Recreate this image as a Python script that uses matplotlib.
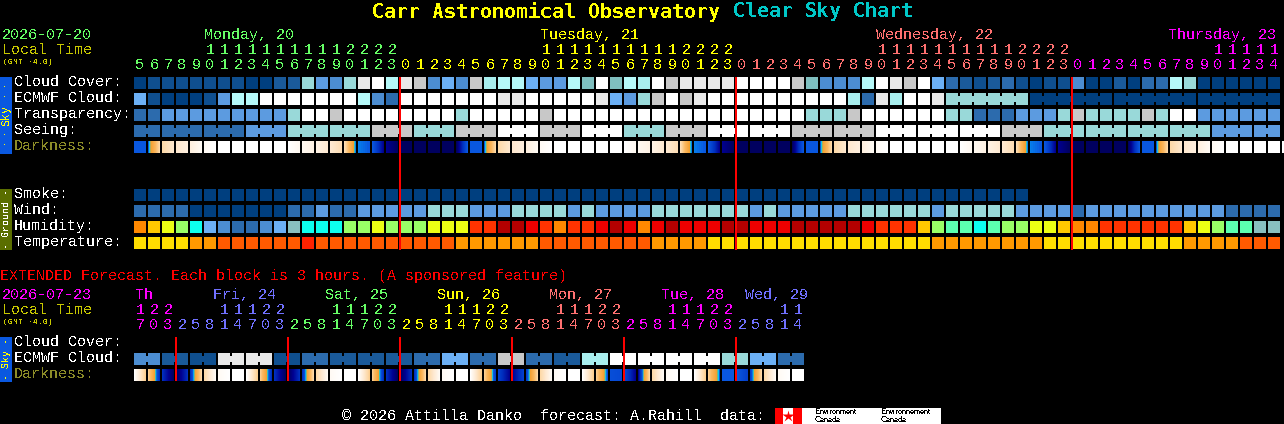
import matplotlib
matplotlib.use('Agg')
import matplotlib.pyplot as plt
import numpy as np
from matplotlib.colors import LinearSegmentedColormap
from matplotlib.patches import Rectangle

plt.rcParams['text.antialiased'] = False
plt.rcParams['text.hinting'] = 'native'
plt.rcParams['text.hinting_factor'] = 1
plt.rcParams['font.family'] = 'Liberation Mono'

# colour classes
sky_colors = ['#003f7f', '#0f4f8f', '#1a5a9a', '#2c6bad', '#4c8dd1', '#5c9be0', '#6cb0f5',
              '#7fbfbf', '#99d9d9', '#a8eeee', '#b5f9f9', '#c8c8c8', '#e9e9e9', '#ffffff']
humidity_colors = ['#b30000', '#ee0000', '#ff3300', '#ff8800', '#ffc800', '#ecff14', '#99ff66',
                   '#5cffb0', '#0dffee', '#6cb0f5', '#4c8dd1', '#2c6bad', '#88bfbf']
temp_colors = ['#ffdd00', '#ff9900', '#ff5a00', '#ff2200']
dark_stops = [(0.0, '#00004c'), (0.03, '#000060'), (0.1, '#000090'), (0.2, '#0030c0'),
              (0.33, '#0a58e0'), (0.36, '#00c8ff'), (0.39, '#50c0a0'), (0.42, '#f5a030'),
              (0.6, '#fbb860'), (0.75, '#fdd9a8'), (0.85, '#fee8cf'), (0.97, '#fffaf4'), (1.0, '#ffffff')]

# main chart, one value per hour
hours = [5, 6, 7, 8, 9, 10, 11, 12, 13, 14, 15, 16, 17, 18, 19, 20, 21, 22, 23,
         0, 1, 2, 3, 4, 5, 6, 7, 8, 9, 10, 11, 12, 13, 14, 15, 16, 17, 18, 19, 20, 21, 22, 23,
         0, 1, 2, 3, 4, 5, 6, 7, 8, 9, 10, 11, 12, 13, 14, 15, 16, 17, 18, 19, 20, 21, 22, 23,
         0, 1, 2, 3, 4, 5, 6, 7, 8, 9, 10, 11, 12, 13, 14]
cloud = [0, 1, 1, 1, 1, 1, 1, 1, 0, 0, 2, 2, 8, 5, 4, 8, 12, 13, 10, 12, 11,
         4, 6, 4, 11, 9, 10, 10, 6, 5, 5, 10, 7, 13, 7, 10, 9, 13, 11, 12, 12, 12, 12,
         13, 13, 13, 13, 11, 7, 4, 4, 4,
         10, 13, 12, 11, 13, 6, 3, 2, 1, 2, 3, 1, 0, 1, 1, 4, 0, 0, 2, 0, 3, 3, 10, 8, 0, 0, 0, 0, 0, 0]
ecmwf = [6, 1, 0, 0, 0, 1, 5, 10, 10, 13, 13, 13, 13, 13, 13, 13, 10, 4, 3, 13, 13,
         13, 13, 13, 13, 13, 12, 12, 13, 13, 13, 13, 13, 12, 6, 5, 8, 11, 13, 11, 12, 13, 13,
         13, 13, 13, 13, 13, 13, 13, 13, 9,
         3, 12, 9, 13, 13, 12, 8, 0, 0, 0]
ecmwf_spans = [1] * 58 + [6, 6, 6, 6]
transparency = [3, 3, 5, 5, 5, 5, 5, 5, 5, 5, 5, 8, 13, 13, 11, 13, 13, 13, 13, 13, 13,
                13, 13, 8, 13, 13, 13, 13, 13, 11, 13, 13, 13, 13, 13, 13, 13, 13, 13, 13, 13, 13, 13,
                13, 13, 13, 13, 13, 8, 8, 8, 11,
                13, 13, 13, 13, 13, 13, 8, 8, 3, 3, 3, 5, 5, 5, 8, 11, 8, 8, 8, 8, 11, 8, 13, 13, 5, 5, 5, 5, 5, 5]
seeing = [3, 3, 3, 5, 8, 8, 11, 8, 11, 13, 11, 13, 8, 11, 13, 13, 11, 11, 13, 13, 13, 11, 8, 8, 8, 8, 5, 5]
seeing_spans = [2] + [3] * 26 + [2]
darkness = [.33, .33, .75, .85, .9, .97, 1, 1, 1, 1, 1, 1, .96, .92, .86, .78, .34, .33, .1, .03, .03, .03, .03,
            .03, .33, .33, .75, .85, .9, .97, 1, 1, 1, 1, 1, 1, .96, .92, .86, .78, .34, .33, .1, .03, .03, .03, .03,
            .03, .33, .33, .75, .85, .9, .97, 1, 1, 1, 1, 1, 1, .96, .92, .86, .78, .34, .33, .1, .03, .03, .03, .03,
            .03, .33, .33, .75, .85, .9, .97, 1, 1, 1, 1, 1, 1]
smoke = [0] * 64
wind = [3, 3, 3, 3, 0, 0, 0, 0, 0, 0, 0, 3, 3, 5, 3, 3, 5, 5, 5, 5, 5,
        8, 8, 8, 5, 5, 5, 8, 8, 8, 8, 5, 8, 5, 5, 5, 5, 8, 8, 8, 8, 8, 8,
        8, 5, 8, 5, 5, 5, 5, 5, 8,
        8, 8, 8, 8, 8, 5, 8, 8, 8, 8, 8, 5, 5, 5, 5, 3, 5, 5, 5, 5, 5, 5, 5, 5, 5, 5, 3, 3, 3, 3]
humidity = [3, 4, 5, 6, 8, 9, 10, 11, 11, 10, 9, 12, 8, 8, 8, 6, 6, 5, 6, 6, 6,
            5, 5, 5, 2, 2, 0, 0, 1, 2, 3, 2, 2, 1, 0, 1, 3, 1, 0, 1, 1, 1, 0,
            0, 1, 1, 1, 0, 0, 0, 0, 0,
            1, 2, 2, 2, 4, 6, 7, 7, 8, 7, 6, 6, 5, 5, 4, 3, 3, 2, 2, 2, 2, 2, 2, 4, 5, 6, 7, 7, 12, 12]
temperature = [0, 0, 0, 0, 1, 1, 2, 2, 2, 2, 2, 2, 3, 2, 2, 2, 2, 2, 2, 2, 2,
               2, 2, 1, 1, 1, 1, 1, 1, 2, 2, 2, 2, 2, 2, 2, 2, 1, 1, 1, 1, 0, 0,
               0, 0, 0, 0, 0, 0, 0, 0, 0,
               0, 0, 0, 0, 0, 1, 1, 1, 1, 1, 1, 1, 1, 0, 0, 0, 0, 0, 0, 0, 0, 0, 0, 1, 1, 1, 1, 2, 2, 2]
midnights = [19, 43, 67]
day_names = ['Monday, 20', 'Tuesday, 21', 'Wednesday, 22', 'Thursday, 23']
day_colors = ['#66ff66', '#ffff00', '#ff7070', '#ff00ff']
day_lengths = [19, 24, 24, 15]

# extended chart, one value per 3 hours
ext_hours = [17, 20, 23,
             2, 5, 8, 11, 14, 17, 20, 23,
             2, 5, 8, 11, 14, 17, 20, 23,
             2, 5, 8, 11, 14, 17, 20, 23,
             2, 5, 8, 11, 14, 17, 20, 23,
             2, 5, 8, 11, 14, 17, 20, 23,
             2, 5, 8, 11, 14]
ext_ecmwf = [4, 2, 1, 12, 12, 1, 3, 2, 2, 2, 3, 6, 3, 11, 3, 2, 9, 13, 13, 13, 13, 8, 6, 3]
ext_spans = [2] * 24
ext_darkness = [1, .7, .2, .03, .2, .75, .97, 1,
                1, .7, .2, .03, .2, .75, .97, 1,
                1, .7, .2, .03, .2, .75, .97, 1,
                1, .7, .25, .1, .25, .75, .97, 1,
                1, .7, .3, .28, .1, .75, .97, 1,
                1, .7, .33, .33, .25, .75, .97, 1, 1]
ext_midnights = [3, 11, 19, 27, 35, 43]
ext_day_names = ['Th', 'Fri, 24', 'Sat, 25', 'Sun, 26', 'Mon, 27', 'Tue, 28', 'Wed, 29']
ext_day_colors = ['#ff00ff', '#7070ff', '#66ff66', '#ffff00', '#ff7070', '#ff00ff', '#7070ff']
ext_day_lengths = [3, 8, 8, 8, 8, 8, 5]

X0 = 134
STEP = 14
CELL = 12
FS = 10.8

fig = plt.figure(figsize=(12.84, 4.24), dpi=100, facecolor='black')
ax = fig.add_axes([0, 0, 1, 1])
ax.set_facecolor('black')
ax.axis('off')

dark_cmap = LinearSegmentedColormap.from_list('dark', dark_stops, N=512)


def box(x, y, w, h, color):
    ax.add_patch(Rectangle((x, y), w, h, facecolor=color, edgecolor='none', antialiased=False))


def draw_row(y, values, palette, spans=None):
    if spans is None:
        spans = [1] * len(values)
    col = 0
    for v, span in zip(values, spans):
        for j in range(span):
            box(X0 + STEP * (col + j), y, CELL, CELL, palette[v])
            # blocks longer than one hour are joined by a short bridge
            if j < span - 1:
                box(X0 + STEP * (col + j) + CELL, y + 3, STEP - CELL, CELL - 6, palette[v])
        col += span


def draw_darkness(y, edges):
    for i in range(len(edges) - 1):
        grad = np.linspace(edges[i], edges[i + 1], CELL).reshape(1, CELL)
        x = X0 + STEP * i
        ax.imshow(grad, cmap=dark_cmap, vmin=0, vmax=1, aspect='auto', interpolation='nearest',
                  extent=(x, x + CELL, y + CELL, y))


def label(x, y, s, color='white', size=FS, **kw):
    kw.setdefault('ha', 'left')
    ax.text(x, y, s, color=color, fontsize=size, va='center', **kw)


def side_text(y, s, color, size=8.4):
    ax.text(6, y, s, color=color, fontsize=size, rotation=90, ha='center', va='center')


def draw_hours(hrs, lengths, colors, y_tens, y_units):
    col = 0
    for n, c in zip(lengths, colors):
        for h in hrs[col:col + n]:
            cx = X0 + STEP * col + CELL / 2
            if h >= 10:
                label(cx, y_tens, str(h // 10), c, ha='center')
            label(cx, y_units, str(h % 10), c, ha='center')
            col += 1


# title
ax.text(372, 11.5, 'Carr Astronomical Observatory', color='#ffff00', fontsize=14.4, fontweight='bold',
        family='DejaVu Sans Mono', va='center')
ax.text(733, 11.5, 'Clear Sky Chart', color='#00c8c8', fontsize=14.4, fontweight='bold',
        family='DejaVu Sans Mono', va='center')

# main chart header
label(2, 35, '2026-07-20', '#66ff66')
label(2, 50, 'Local Time', '#c8c800')
label(3, 62, '(GMT -4.0)', '#c8c800', size=5.8)
for x, name, c in zip([204, 540, 876, 1168], day_names, day_colors):
    label(x, 35, name, c)
draw_hours(hours, day_lengths, day_colors, 50, 65)

# main chart rows
row_names = ['Cloud Cover:', 'ECMWF Cloud:', 'Transparency:', 'Seeing:', 'Darkness:']
for i, name in enumerate(row_names):
    label(14, 82 + 16 * i, name, '#8c8c28' if name == 'Darkness:' else 'white')
for i, name in enumerate(['Smoke:', 'Wind:', 'Humidity:', 'Temperature:']):
    label(14, 194 + 16 * i, name)

draw_row(77, cloud, sky_colors)
draw_row(93, ecmwf, sky_colors, ecmwf_spans)
draw_row(109, transparency, sky_colors)
draw_row(125, seeing, sky_colors, seeing_spans)
draw_darkness(141, darkness)
draw_row(189, smoke, sky_colors)
draw_row(205, wind, sky_colors)
draw_row(221, humidity, humidity_colors)
draw_row(237, temperature, temp_colors)

for c in midnights:
    box(X0 + STEP * c - 1, 77, 2, 173, '#ff0000')

# side strips
box(0, 77, 12, 77, '#0a58e0')
side_text(90, '- -', '#ffff00', 6)
side_text(115, 'Sky', '#ffff00')
side_text(139, '- -', '#ffff00', 6)
box(0, 189, 12, 61, '#5a6e00')
side_text(219, '- Ground -', 'white', 7.2)
box(0, 337, 12, 45, '#0a58e0')
side_text(359, '- Sky -', '#ffff00', 7.2)

# extended forecast
label(0, 276, 'EXTENDED Forecast. Each block is 3 hours. (A sponsored feature)', '#ff0000')
label(2, 295, '2026-07-23', '#ff00ff')
label(2, 310, 'Local Time', '#c8c800')
label(3, 322, '(GMT -4.0)', '#c8c800', size=5.8)
for x, name, c in zip([135, 213, 325, 437, 549, 661, 745], ext_day_names, ext_day_colors):
    label(x, 295, name, c)
draw_hours(ext_hours, ext_day_lengths, ext_day_colors, 310, 325)

label(14, 342, 'Cloud Cover:')
label(14, 358, 'ECMWF Cloud:')
label(14, 374, 'Darkness:', '#8c8c28')
draw_row(353, ext_ecmwf, sky_colors, ext_spans)
draw_darkness(369, ext_darkness)
for c in ext_midnights:
    box(X0 + STEP * c - 1, 337, 2, 44, '#ff0000')

# footer
label(342, 416, '\u00a9 2026 Attilla Danko  forecast: A.Rahill  data:')
box(775, 408, 166, 16, '#ffffff')
box(775, 408, 8, 16, '#ff0000')
box(793, 408, 9, 16, '#ff0000')
ax.plot([788], [416], marker='*', markersize=9, color='#ff0000', markeredgecolor='none')
for x, top in [(815, 'Environment'), (881, 'Environnement')]:
    ax.text(x, 412, top, color='black', fontsize=5.6, family='Liberation Sans', va='center')
    ax.text(x, 420, 'Canada', color='black', fontsize=5.6, family='Liberation Sans', va='center')

ax.set_xlim(0, 1284)
ax.set_ylim(424, 0)
fig.savefig('out.png', dpi=100, facecolor='black')
